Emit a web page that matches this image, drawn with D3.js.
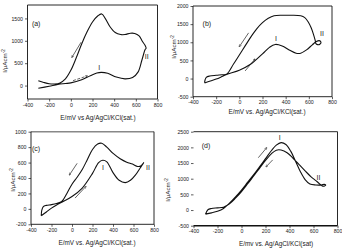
<!DOCTYPE html>
<html>
<head>
<meta charset="utf-8">
<script src="https://cdn.jsdelivr.net/npm/d3@7"></script>
<style>
body { margin: 0; background: #fff; }
text { font-family: "Liberation Sans", Arial, sans-serif; fill: #222; }
</style>
</head>
<body>
<svg id="chart" width="342" height="251"></svg>
<script>
// potential E (mV) vs current density I (uA/cm2), one scan per panel
const eTicks = [-400, -200, 0, 200, 400, 600, 800];

// (a): forward scan then reverse scan
const scanA = [[-300,-60],[-200,-15],[-120,25],[-50,45],[0,60],[100,130],[180,220],[240,280],[280,295],[340,275],[420,190],[500,150],[570,180],[620,300],[655,560],[685,800],[695,835],
  [685,900],[660,990],[630,1110],[590,1165],[550,1170],[500,1140],[460,1140],[410,1185],[360,1320],[320,1490],[285,1600],[250,1560],[200,1420],[150,1200],[100,930],[50,620],[0,340],[-50,150],[-100,60],[-150,35],[-200,40],[-250,70],[-300,110]];
const iTicksA = [0, 500, 1000, 1500];

// (b)
const scanB = [[-300,-120],[-250,-65],[-200,-15],[-150,55],[-110,115],[0,230],[100,400],[200,680],[260,860],[310,940],[370,900],[430,790],[490,700],[530,700],[580,790],[630,930],[665,1020],[690,1045],[705,1000],[695,945],[675,935],[660,970],[655,1050],
  [640,1220],[620,1400],[595,1560],[565,1680],[530,1730],[450,1745],[370,1745],[300,1730],[250,1660],[200,1540],[150,1370],[100,1150],[50,900],[0,650],[-50,400],[-110,120],[-150,105],[-200,90],[-255,70],[-285,35],[-296,-40],[-300,-120]];
const iTicksB = [-500, 0, 500, 1000, 1500, 2000];

// (c)
const scanC = [[-300,-90],[-250,-40],[-200,10],[-150,50],[-100,85],[0,160],[100,270],[200,460],[260,600],[300,630],[340,610],[400,470],[460,370],[520,340],[570,370],[620,440],[665,530],[700,600],
  [670,555],[640,550],[590,580],[534,605],[470,650],[404,715],[340,800],[290,850],[250,840],[200,770],[150,640],[100,510],[50,410],[0,320],[-50,200],[-100,95],[-150,70],[-200,55],[-250,45],[-280,30],[-295,-20],[-300,-90]];
const iTicksC = [-200, 0, 200, 400, 600, 800, 1000];

// (d)
const scanD = [[-300,-130],[-250,-90],[-200,-40],[-150,50],[-100,220],[-50,420],[0,640],[50,880],[100,1120],[150,1380],[200,1640],[250,1900],[290,2070],[330,2150],[370,2090],[410,1880],[450,1560],[490,1230],[530,970],[570,830],[620,800],[665,800],[690,820],[702,795],[692,765],[672,770],[660,810],
  [640,870],[620,940],[580,1060],[530,1250],[480,1450],[430,1650],[380,1830],[330,1915],[290,1910],[250,1800],[200,1580],[150,1330],[100,1080],[50,830],[0,590],[-50,380],[-100,200],[-150,90],[-200,70],[-250,50],[-280,10],[-300,-130]];
const iTicksD = [-500, 0, 500, 1000, 1500, 2000, 2500];

const panels = [
  { tag: "(a)", scan: scanA, yDomain: [-300, 1800], yTicks: iTicksA,
    box: { left: 27.5, right: 157.5, top: 5, bottom: 99 }, frame: ["top", "right", "left"],
    xTitle: "E/mV vs Ag/AgCl/KCl(sat.)", xTitleAt: [98, 118], yTitleAt: [4.5, 61],
    tagAt: [-320, 1380], peaks: [["I", 262, 400], ["II", 700, 640]],
    arrows: [{ from: [95, 970], to: [10, 630] }, { from: [20, 110], to: [150, 215], dashed: true }] },
  { tag: "(b)", scan: scanB, yDomain: [-500, 2000], yTicks: iTicksB,
    box: { left: 193, right: 332, top: 6, bottom: 96.7 }, frame: ["top", "right", "left"],
    xTitle: "E/mV vs. Ag/AgCl/KCl(sat.)", xTitleAt: [267, 112], yTitleAt: [173.5, 47],
    tagAt: [-280, 1530], peaks: [["I", 317, 1090], ["II", 714, 1230]],
    arrows: [{ from: [80, 1260], to: [0, 880] }, { from: [50, 210], to: [135, 540] }] },
  { tag: "(c)", scan: scanC, yDomain: [-200, 1000], yTicks: iTicksC,
    box: { left: 31, right: 154, top: 131.7, bottom: 224.3 }, frame: ["top", "right", "left"],
    xTitle: "E/mV vs. Ag/AgCl/KCl(sat.)", xTitleAt: [97, 242.5], yTitleAt: [13, 180],
    tagAt: [-350, 776], peaks: [["I", 302, 530], ["II", 741, 530]],
    arrows: [{ from: [50, 590], to: [-25, 440] }, { from: [30, 140], to: [135, 290] }] },
  { tag: "(d)", scan: scanD, yDomain: [-500, 2500], yTicks: iTicksD,
    box: { left: 193.5, right: 337.5, top: 131.7, bottom: 225.7 }, frame: ["top", "right"],
    xTitle: "E/mv vs. Ag/AgCl/KCl(sat)", xTitleAt: [276, 244], yTitleAt: [167.5, 190],
    tagAt: [-296, 2043], peaks: [["I", 318, 2300], ["II", 642, 1022]],
    arrows: [{ from: [140, 1670], to: [210, 1990] }, { from: [260, 1600], to: [205, 1380] }] }
];

const svg = d3.select("#chart");

svg.append("defs").append("marker")
  .attr("id", "head")
  .attr("viewBox", "0 0 10 10")
  .attr("refX", 8).attr("refY", 5)
  .attr("markerWidth", 4).attr("markerHeight", 4)
  .attr("orient", "auto")
  .append("path")
  .attr("d", "M0,1L10,5L0,9")
  .attr("fill", "none")
  .attr("stroke", "#222")
  .attr("stroke-width", 1.5);

panels.forEach(drawPanel);

function drawPanel(p) {
  const b = p.box;
  const x = d3.scaleLinear().domain([-400, 800]).range([b.left, b.right]);
  const y = d3.scaleLinear().domain(p.yDomain).range([b.bottom, b.top]);
  const g = svg.append("g");

  // axes
  const xAxis = g.append("g")
    .attr("transform", `translate(0,${b.bottom})`)
    .call(d3.axisBottom(x).tickValues(eTicks).tickSize(2.5).tickSizeOuter(0).tickPadding(1.5).tickFormat(d => String(d)));
  const yAxis = g.append("g")
    .attr("transform", `translate(${b.left},0)`)
    .call(d3.axisLeft(y).tickValues(p.yTicks).tickSize(2.5).tickSizeOuter(0).tickPadding(2).tickFormat(d => String(d)));
  [xAxis, yAxis].forEach(a => {
    a.select(".domain").remove();
    a.selectAll("line").attr("stroke", "#333").attr("stroke-width", 0.8);
    a.selectAll("text").style("font-size", "5.2px").attr("fill", "#222");
  });

  // frame
  const sides = {
    top: [b.left, b.top, b.right, b.top],
    right: [b.right, b.top, b.right, b.bottom],
    left: [b.left, b.top, b.left, b.bottom],
    bottom: [b.left, b.bottom, b.right, b.bottom]
  };
  p.frame.concat(["bottom"]).forEach(s => {
    const c = sides[s];
    g.append("line")
      .attr("x1", c[0]).attr("y1", c[1]).attr("x2", c[2]).attr("y2", c[3])
      .attr("stroke", p.tag === "(c)" && s === "top" ? "#888" : "#111")
      .attr("stroke-width", (p.tag === "(c)" && s === "top") || (p.tag === "(d)" && s === "bottom") ? 1.6 : 0.9);
  });

  // voltammogram
  const line = d3.line()
    .x(d => x(d[0]))
    .y(d => y(d[1]))
    .curve(d3.curveCatmullRom.alpha(0.5));
  g.append("path")
    .datum(p.scan)
    .attr("d", line)
    .attr("fill", "none")
    .attr("stroke", "#111")
    .attr("stroke-width", 1.1);

  // scan direction arrows
  p.arrows.forEach(a => {
    g.append("line")
      .attr("x1", x(a.from[0])).attr("y1", y(a.from[1]))
      .attr("x2", x(a.to[0])).attr("y2", y(a.to[1]))
      .attr("stroke", "#222")
      .attr("stroke-width", 0.7)
      .attr("stroke-dasharray", a.dashed ? "3,1.5" : null)
      .attr("marker-end", "url(#head)");
  });

  // labels
  g.append("text")
    .attr("x", x(p.tagAt[0])).attr("y", y(p.tagAt[1]))
    .attr("dy", "0.35em")
    .attr("text-anchor", "middle")
    .style("font-size", "7px")
    .text(p.tag);

  p.peaks.forEach(k => {
    g.append("text")
      .attr("x", x(k[1])).attr("y", y(k[2]))
      .attr("dy", "0.35em")
      .attr("text-anchor", "middle")
      .style("font-size", "7px")
      .text(k[0]);
  });

  g.append("text")
    .attr("x", p.xTitleAt[0]).attr("y", p.xTitleAt[1])
    .attr("dy", "0.35em")
    .attr("text-anchor", "middle")
    .style("font-size", "6.4px")
    .text(p.xTitle);

  const yt = g.append("text")
    .attr("transform", `translate(${p.yTitleAt[0]},${p.yTitleAt[1]}) rotate(-90)`)
    .attr("dy", "0.35em")
    .attr("text-anchor", "middle")
    .style("font-size", "6.2px");
  yt.append("tspan").text("I/\u03bcAcm");
  yt.append("tspan").attr("dy", "-0.4em").style("font-size", "4.5px").text("-2");
}
</script>
</body>
</html>
